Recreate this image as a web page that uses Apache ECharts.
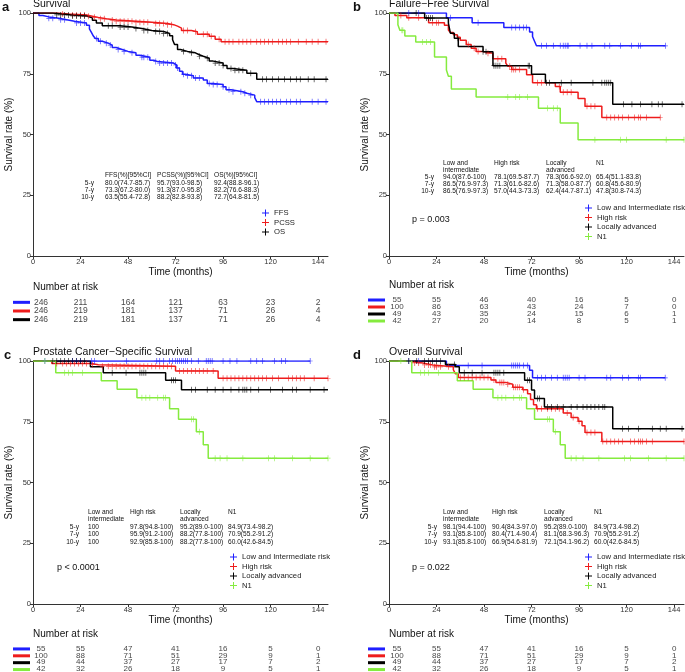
<!DOCTYPE html>
<html>
<head>
<meta charset="utf-8">
<script src="https://cdn.jsdelivr.net/npm/echarts@6/dist/echarts.min.js"></script>
<style>html,body{margin:0;padding:0;background:#fff}#main{width:685px;height:672px}</style>
</head>
<body>
<div id="main"></div>
<script>
var chart = echarts.init(document.getElementById('main'));

var BLUE = '#1f1fff', RED = '#ee1c1c', BLACK = '#000000', GREEN = '#85eb3e';
var FONT = 'Liberation Sans';
var months = [0, 24, 48, 72, 96, 120, 144];
var groupNames = ['Low and Intermediate risk', 'High risk', 'Locally advanced', 'N1'];

// ---- panel a : survival endpoints ----
var aFFS = [[0,100],[3,99],[5,98.4],[8,97.8],[13,97.2],[17,96.6],[21,95.9],[27,95.0],[28.5,93.5],[29.5,92],[30.5,90.5],[31.5,89.5],[33,88.4],[35,87.6],[38,86.8],[40,85.8],[42,85],[45,84.2],[48,83.6],[52,82.6],[54,81.8],[59,80.6],[61,80.0],[63,79.4],[71,78.6],[72.5,77.4],[74,76],[75.5,74.8],[77,74.2],[81,73.3],[86,72.4],[88,71],[91,70.6],[96,69.6],[97.5,68.4],[100,67.6],[106,67.0],[108,66.2],[112,65.2],[113,63.5],[149,63.5]];
var aPCSS = [[0,100],[12,99.6],[18,99.2],[27,98.7],[30,98.2],[33,97.6],[37,97.1],[42,96.6],[52,96.2],[60,95.7],[68,95.2],[71,94.6],[73,93.8],[75,92.8],[80,92.3],[83,91.3],[89,90.4],[92,89.2],[95,88.2],[149,88.2]];
var aOS = [[0,100],[10,99.2],[20,98.8],[27,98],[30,97],[32,95.9],[35,94.8],[44,94.2],[50,93.6],[55,92.8],[60,92.4],[66,91.6],[69,90.6],[70.5,89],[71.5,87],[73,85],[74.5,84.2],[78,83.6],[82,82.8],[84,82.2],[86,81.4],[89,80.2],[91,79.4],[96,78.4],[98,77.2],[101,76.4],[108,75.2],[113,72.7],[149,72.7]];
var aFFSc = [8,10,14,16,22,24,26,32,34,37,39,43,46,50,55,56,58,62,64,66,68,70,72,73,76,78,80,82,84,89,91,93,96,99,101,105,107,110,115,117,119,121,123,125,128,130,133,135,141,144,148];
var aPCSSc = [15,20,22,24,26,28,31,34,36,40,42,44,46,48,50,52,54,56,58,62,64,66,68,70,76,78,82,86,88,90,94,97,99,101,104,106,108,110,113,115,117,119,121,124,126,128,130,134,138,141,144,148];
var aOSc = [12,14,16,18,20,22,24,26,38,40,44,46,48,52,56,58,62,64,66,68,76,80,84,88,92,94,96,100,102,104,106,110,116,118,121,124,127,130,133,135,139,142,148];
var aRisk = [[246,211,164,121,63,23,2],[246,219,181,137,71,26,4],[246,219,181,137,71,26,4]];
var aHeads = ['FFS(%)[95%CI]', 'PCSS(%)[95%CI]', 'OS(%)[95%CI]'];
var aRows = [['5-y','80.0(74.7-85.7)','95.7(93.0-98.5)','92.4(88.8-96.1)'],
             ['7-y','73.3(67.2-80.0)','91.3(87.0-95.8)','82.2(76.6-88.3)'],
             ['10-y','63.5(55.4-72.8)','88.2(82.8-93.8)','72.7(64.8-81.5)']];

// ---- panel b : failure-free survival ----
var bLow = [[0,100],[29,98],[42,96],[58,94],[71,92.2],[72.5,90.3],[73.5,88.4],[74.5,86.5],[139.6,86.5]];
var bHigh = [[0,100],[3,99],[9,98],[20,96],[28,95],[30,93],[31,92],[32.5,91],[34.5,90],[36,88.8],[39,87],[41.5,85.5],[44,84.2],[47.5,83.4],[52.5,81.2],[59,79.4],[60,78.1],[62,76.7],[69.5,74.6],[72.5,71.3],[84,69.8],[86.5,67.4],[95.5,64.8],[99,61.6],[107.5,57.0],[137,57.0]];
var bLocal = [[0,100],[18,97.9],[30,95.8],[31,91.7],[33,89.6],[35,86.2],[47.5,84.1],[52.5,78.3],[72,74.8],[79,71.3],[113,62.4],[149,62.4]];
var bN1 = [[0,100],[4.5,95.2],[5.5,92.9],[8,90.5],[13.5,88.1],[23,81.9],[29,76.5],[30,74],[31.5,68.7],[44,65.4],[75.5,60.8],[86.5,54.7],[95.5,47.8],[149,47.8]];
var bLowc = [10,15,31,45,62,64,66,68,69.5,77,79.5,83,86.5,88,89,90,90.5,96.5,100,102.5,109,111.5,117,122.5,126,127,139.6];
var bHighc = [6,10,15,22,24,25,40,43,45,50,55,57,61,62,63,64,66,75,77,86,88,90,92,100,102,104,110,112,114,116,118,121,124,126,127,130,137];
var bLocalc = [13.7,19,20,21,22,34.8,47.5,49,53,54,55,56,70.3,71,79.6,81,87,92,103,107.5,109,110,111,112,118.5,122.7,127,132.8,136,138,148];
var bN1c = [6.5,7,17,19,21,60,64,66,70,80,83,85,104,117,120,140,149];
var bRisk = [[55,55,46,40,16,5,0],[100,86,63,43,24,7,0],[49,43,35,24,15,6,1],[42,27,20,14,8,5,1]];
var bRows = [['5-y','94.0(87.6-100)','78.1(69.5-87.7)','78.3(66.6-92.0)','65.4(51.1-83.8)'],
             ['7-y','86.5(76.9-97.3)','71.3(61.6-82.6)','71.3(58.0-87.7)','60.8(45.6-80.9)'],
             ['10-y','86.5(76.9-97.3)','57.0(44.3-73.3)','62.4(44.7-87.1)','47.8(30.8-74.3)']];

// ---- panel c : prostate cancer-specific survival ----
var cLow = [[0,100],[140,100]];
var cHigh = [[0,100],[9.5,99],[29.5,98.5],[33,97.8],[72,95.9],[93.5,92.9],[149,92.9]];
var cLocal = [[0,100],[29,97.6],[35.5,95.2],[67,92.1],[75,88.2],[149,88.2]];
var cN1 = [[0,100],[11.5,95.2],[34.5,91.9],[42.5,88.4],[52.5,84.9],[69,80.4],[73.5,76],[82.5,70.9],[86,65.5],[88.5,60.0],[149,60.0]];
var cLowc = [6,20,22,24,29.6,31,47.3,62.5,64,66,69,70.5,72,73,74,75,76,77,78,80,83.5,87.5,88.5,89.5,90.5,96,99.5,103,110,113,116,122,125.5,127.5,140];
var cHighc = [12,15,17,19,21,23,25,27,30,35,38,40,42,44,46,48,50,52,54,56,58,60,62,64,66,68,70,74,76,78,80,82,84,86,88,91,96,98,100,102,104,106,108,110,112,114,116,118,121,124,129,131,133,135,137,142,149];
var cLocalc = [10,12,14,16,18,20,22,24,26,40,47,54,55,56,57,70,71,72,80,82,88,92,96,100,104,106,107,108,110,114,120,126,131,133,140,147];
var cN1c = [6,16,18,20,25,55,57,59,63,66,67,80,81,84,92,94.5,98,106,119,122,131,140,149];
var cRisk = [[55,55,47,41,16,5,0],[100,88,71,51,29,9,1],[49,44,37,27,17,7,2],[42,32,26,18,9,5,1]];
var cRows = [['5-y','100','97.8(94.8-100)','95.2(89.0-100)','84.9(73.4-98.2)'],
             ['7-y','100','95.9(91.2-100)','88.2(77.8-100)','70.9(55.2-91.2)'],
             ['10-y','100','92.9(85.8-100)','88.2(77.8-100)','60.0(42.6-84.5)']];

// ---- panel d : overall survival ----
var dLow = [[0,100],[29,98.1],[71,96.2],[72.5,93.1],[139.5,93.1]];
var dHigh = [[0,100],[9.5,99.2],[17,98.4],[22,97.6],[32.5,96.4],[33.5,94.8],[35,93.2],[51.5,92.2],[54,91.2],[59,90.4],[62.5,89.2],[67.5,88.2],[70,86.5],[71.5,84.2],[73,82],[74.5,80.4],[88,78.6],[92,76.8],[95.5,75.2],[97.5,73.4],[99,70.6],[107.5,66.9],[149,66.9]];
var dLocal = [[0,100],[28.5,98.6],[33.5,97.6],[35.5,95.2],[68.5,92.1],[72,88.1],[73.5,84.6],[78.5,81.1],[113,72.1],[149,72.1]];
var dN1 = [[0,100],[11.5,95.2],[34.5,91.9],[42.5,88.4],[52.5,84.9],[69.5,80.4],[73.5,76],[83,70.9],[86.5,65.5],[89,60.0],[149,60.0]];
var dLowc = [10,15,40,47,62,63,64,65,66,68,70,75,77,79,82,85,88,89,90,91,96,99,110,112,118,121,126,127,139.5];
var dHighc = [13,15,18,20,21,23,24,26,30,36,38,40,42,44,46,48,50,53,56,57,58,60,63,64,65,66,68,75,77,80,82,84,86,90,93,96,100,102,104,108,110,112,114,116,118,122,124,126,127,128,130,133,149];
var dLocalc = [10,14,18,20,22,24,26,33,38,42,47,53,54,55,56,58,70,71,75,76,80,82,85,88,92,95,98,100,102,104,106,108,109,118,121,126,133,137,140,148];
var dN1c = [6,16,18,20,25,55,57,59,63,66,67,80,81,84,92,94.5,98,106,119,122,131,140,149];
var dRisk = [[55,55,47,41,16,5,0],[100,88,71,51,29,9,1],[49,44,37,27,17,7,2],[42,32,26,18,9,5,1]];
var dRows = [['5-y','98.1(94.4-100)','90.4(84.3-97.0)','95.2(89.0-100)','84.9(73.4-98.2)'],
             ['7-y','93.1(85.8-100)','80.4(71.4-90.4)','81.1(68.3-96.3)','70.9(55.2-91.2)'],
             ['10-y','93.1(85.8-100)','66.9(54.6-81.9)','72.1(54.1-96.2)','60.0(42.6-84.5)']];
var groupHeads = ['Low and\nintermediate', 'High risk', 'Locally\nadvanced', 'N1'];

// value of a KM step curve at time t (for the censor marks)
function survAt(curve, t) {
    var s = curve[0][1];
    for (var i = 0; i < curve.length; i++) {
        if (curve[i][0] <= t) s = curve[i][1];
    }
    return s;
}

var PLUS = 'path://M0,4.4H10V5.6H0Z M4.3,0H5.7V10H4.3Z';
var option = {
    animation: false,
    textStyle: {fontFamily: FONT},
    grid: [], xAxis: [], yAxis: [], series: [], legend: [], graphic: []
};

function txt(x, y, text, size, extra) {
    var st = {x: x, y: y, text: text, fontFamily: FONT, fontSize: size, fill: '#111',
              textVerticalAlign: 'middle', textAlign: 'left'};
    for (var k in extra) st[k] = extra[k];
    option.graphic.push({type: 'text', silent: true, style: st});
}

function addPanel(p) {
    var gi = option.grid.length;
    option.grid.push({left: p.L, top: p.T, width: 295, height: 243});
    option.xAxis.push({
        gridIndex: gi, type: 'value', min: 0, max: 149,
        name: 'Time (months)', nameLocation: 'middle', nameGap: 11,
        nameTextStyle: {fontSize: 10, color: '#111', verticalAlign: 'top'},
        axisLine: {lineStyle: {color: '#333', width: 1}},
        axisTick: {length: 3, customValues: months, lineStyle: {color: '#333'}},
        axisLabel: {customValues: months, fontSize: 7.5, color: '#333', margin: 2},
        splitLine: {show: false}
    });
    option.yAxis.push({
        gridIndex: gi, type: 'value', min: 0, max: 100, interval: 25,
        name: 'Survival rate (%)', nameLocation: 'middle', nameGap: 19, nameRotate: 90,
        nameTextStyle: {fontSize: 10, color: '#111'},
        axisLine: {show: true, lineStyle: {color: '#333', width: 1}},
        axisTick: {show: true, length: 3, lineStyle: {color: '#333'}},
        axisLabel: {fontSize: 7.5, color: '#333', margin: 2},
        splitLine: {show: false}
    });
    p.curves.forEach(function (c) {
        option.series.push({
            name: c.name, type: 'line', step: 'end', xAxisIndex: gi, yAxisIndex: gi,
            data: c.data, showSymbol: false, color: c.color,
            lineStyle: {color: c.color, width: 1.5}, silent: true, z: 2
        });
        option.series.push({
            type: 'scatter', xAxisIndex: gi, yAxisIndex: gi, symbol: PLUS, symbolSize: [5, 6],
            itemStyle: {color: c.color}, silent: true, z: 3,
            data: c.cens.map(function (t) { return [t, survAt(c.data, t)]; })
        });
    });
    option.legend.push({
        orient: 'vertical', left: p.legX, top: p.legY, padding: 0, itemGap: 1.5,
        itemWidth: 9, itemHeight: 7, icon: PLUS, selectedMode: false,
        textStyle: {fontSize: 7.7, color: '#222', fontFamily: FONT, padding: [0, 0, 0, -1]},
        data: p.curves.map(function (c) { return c.name; })
    });

    // number at risk table
    var ri = option.grid.length;
    var rowNames = p.curves.map(function (c) { return c.name; });
    option.grid.push({left: p.L, top: p.rTop, width: 295, height: p.rH});
    option.xAxis.push({gridIndex: ri, type: 'value', min: 0, max: 149, show: false});
    option.yAxis.push({gridIndex: ri, type: 'category', data: rowNames, inverse: true, show: false});
    var rd = [];
    p.risk.forEach(function (row, r) {
        row.forEach(function (n, k) {
            var item = {value: [months[k], rowNames[r], n]};
            if (k === 0) item.label = {offset: [8, 0]};
            rd.push(item);
        });
    });
    option.series.push({
        type: 'scatter', xAxisIndex: ri, yAxisIndex: ri, symbolSize: 0.1,
        itemStyle: {color: 'transparent'}, silent: true, data: rd,
        label: {show: true, position: 'inside', fontSize: p.rFont, color: '#111',
                fontFamily: FONT, formatter: function (q) { return q.value[2]; }}
    });
    var step = p.rH / p.risk.length;
    p.curves.forEach(function (c, r) {
        option.graphic.push({type: 'rect', silent: true,
            shape: {x: p.barX, y: p.rTop + step * (r + 0.5) - 1.5, width: 17, height: 3},
            style: {fill: c.color}});
    });
    txt(p.L, p.rTop - 11, 'Number at risk', 10);

    // panel letter and title
    txt(p.letX, p.T - 6, p.letter, 13, {fontWeight: 'bold'});
    txt(p.L, p.T - 8.5, p.title, 10.5);

    // survival table
    var tb = p.table;
    tb.heads.forEach(function (h, k) {
        txt(tb.colX[k], tb.headY, h, 6.6, {textVerticalAlign: 'top', lineHeight: 7});
    });
    tb.rows.forEach(function (row, r) {
        txt(tb.labelR, tb.rowY[r], row[0], 6.6, {textAlign: 'right'});
        for (var k = 1; k < row.length; k++) txt(tb.colX[k - 1], tb.rowY[r], row[k], 6.6);
    });
    if (p.pval) txt(p.pX, p.pY, p.pval, 9);
}

addPanel({
    L: 33, T: 13, letter: 'a', letX: 2, title: 'Survival',
    curves: [
        {name: 'FFS', color: BLUE, data: aFFS, cens: aFFSc},
        {name: 'PCSS', color: RED, data: aPCSS, cens: aPCSSc},
        {name: 'OS', color: BLACK, data: aOS, cens: aOSc}
    ],
    legX: 262, legY: 209, risk: aRisk, rTop: 298, rH: 26, rFont: 8.5, barX: 13,
    table: {heads: aHeads, rows: aRows, headY: 171.5, rowY: [183, 190, 197], labelR: 94, colX: [105, 157, 214]}
});
addPanel({
    L: 389, T: 13, letter: 'b', letX: 353, title: 'Failure\u2212Free Survival',
    curves: [
        {name: groupNames[0], color: BLUE, data: bLow, cens: bLowc},
        {name: groupNames[1], color: RED, data: bHigh, cens: bHighc},
        {name: groupNames[2], color: BLACK, data: bLocal, cens: bLocalc},
        {name: groupNames[3], color: GREEN, data: bN1, cens: bN1c}
    ],
    legX: 585, legY: 204, risk: bRisk, rTop: 296.5, rH: 28, rFont: 8, barX: 368,
    table: {heads: groupHeads, rows: bRows, headY: 159.5, rowY: [177, 184, 191], labelR: 434, colX: [443, 494, 546, 596]},
    pval: 'p = 0.003', pX: 412, pY: 220
});
addPanel({
    L: 33, T: 361, letter: 'c', letX: 4, title: 'Prostate Cancer\u2212Specific Survival',
    curves: [
        {name: groupNames[0], color: BLUE, data: cLow, cens: cLowc},
        {name: groupNames[1], color: RED, data: cHigh, cens: cHighc},
        {name: groupNames[2], color: BLACK, data: cLocal, cens: cLocalc},
        {name: groupNames[3], color: GREEN, data: cN1, cens: cN1c}
    ],
    legX: 230, legY: 553, risk: cRisk, rTop: 645.5, rH: 27.5, rFont: 8, barX: 13,
    table: {heads: groupHeads, rows: cRows, headY: 508.5, rowY: [527, 534, 542], labelR: 79, colX: [88, 130, 180, 228]},
    pval: 'p < 0.0001', pX: 57, pY: 568
});
addPanel({
    L: 389, T: 361, letter: 'd', letX: 353, title: 'Overall Survival',
    curves: [
        {name: groupNames[0], color: BLUE, data: dLow, cens: dLowc},
        {name: groupNames[1], color: RED, data: dHigh, cens: dHighc},
        {name: groupNames[2], color: BLACK, data: dLocal, cens: dLocalc},
        {name: groupNames[3], color: GREEN, data: dN1, cens: dN1c}
    ],
    legX: 585, legY: 553, risk: dRisk, rTop: 645.5, rH: 27.5, rFont: 8, barX: 368,
    table: {heads: groupHeads, rows: dRows, headY: 508.5, rowY: [527, 534, 542], labelR: 437, colX: [443, 492, 544, 594]},
    pval: 'p = 0.022', pX: 412, pY: 568
});

chart.setOption(option);
</script>
</body>
</html>
